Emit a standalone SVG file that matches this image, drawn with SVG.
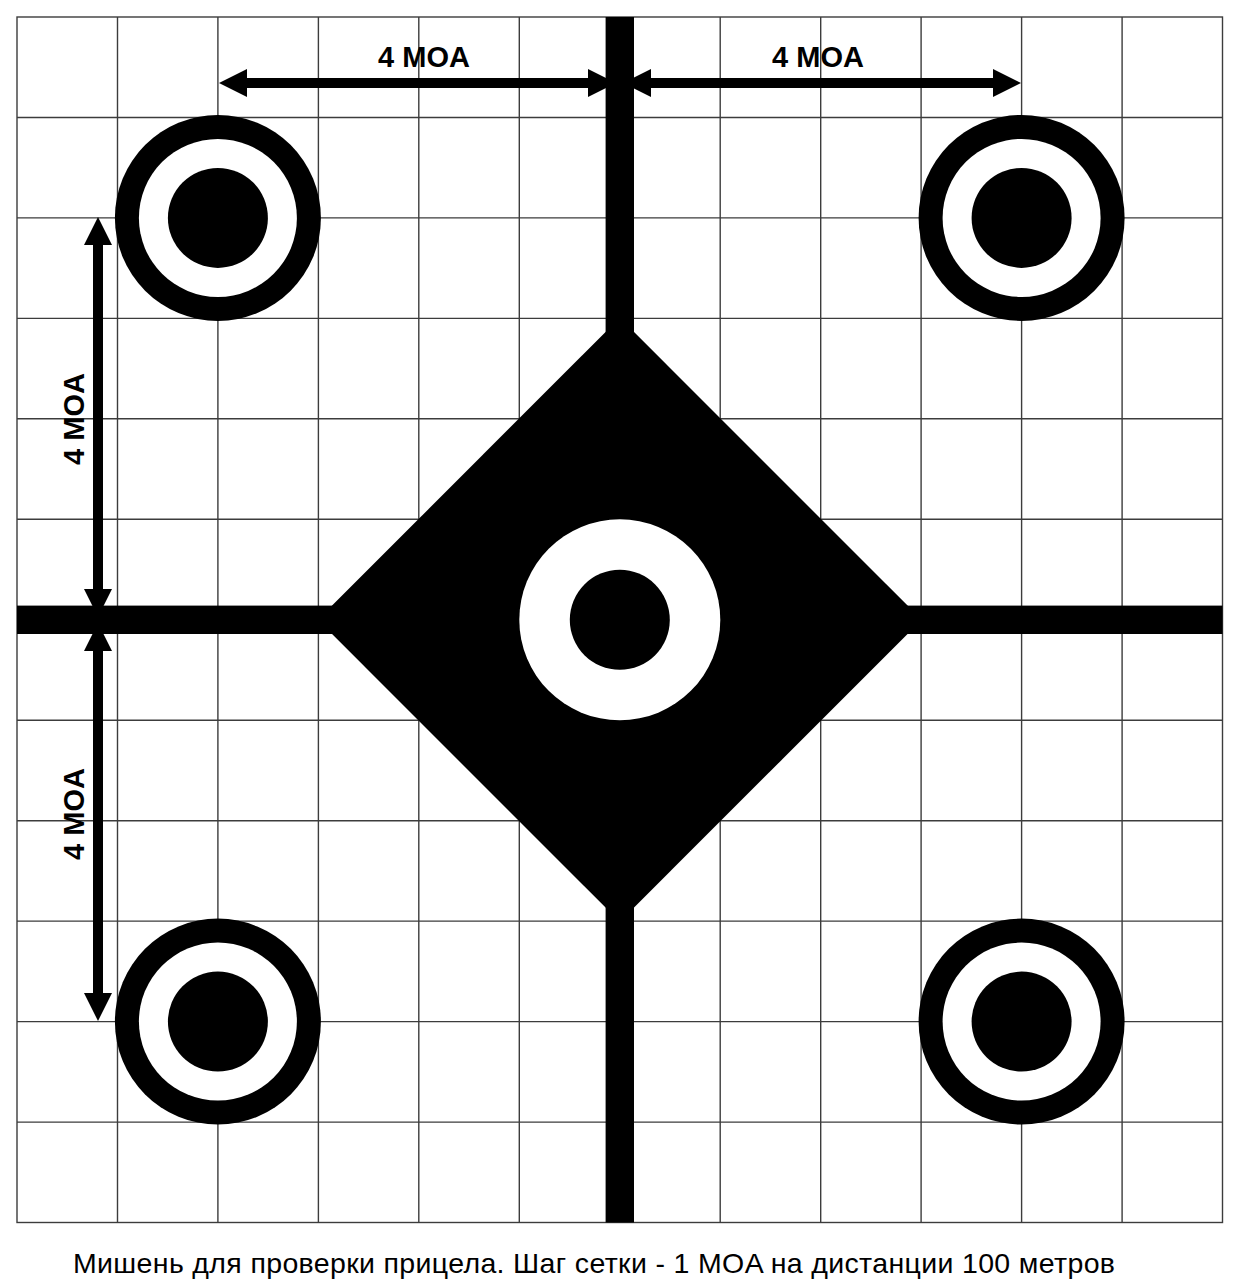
<svg xmlns="http://www.w3.org/2000/svg" width="1240" height="1280" viewBox="0 0 1240 1280">
<style>
.grid{stroke:#3c3c3c;stroke-width:1.4;fill:none}
.lbl{font-family:"Liberation Sans",Arial,sans-serif;font-weight:bold;font-size:29px;fill:#000;text-anchor:middle}
.cap{font-family:"Liberation Sans",Arial,sans-serif;font-size:28.5px;fill:#000}
</style>
<rect width="1240" height="1280" fill="#fff"/>
<g id="grid" class="grid">
<rect x="17" y="17" width="1205.5" height="1205.5"/>
<path d="M117.5 17V1222.5M217.9 17V1222.5M318.4 17V1222.5M418.8 17V1222.5M519.3 17V1222.5M619.8 17V1222.5M720.2 17V1222.5M820.7 17V1222.5M921.1 17V1222.5M1021.6 17V1222.5M1122.1 17V1222.5"/>
<path d="M17 117.5H1222.5M17 217.9H1222.5M17 318.4H1222.5M17 418.8H1222.5M17 519.3H1222.5M17 619.8H1222.5M17 720.2H1222.5M17 820.7H1222.5M17 921.1H1222.5M17 1021.6H1222.5M17 1122.1H1222.5"/>
</g>
<g id="center-target">
<polygon points="619.8,317.8 921.8,619.8 619.8,921.8 317.8,619.8" fill="#000"/>
<rect x="605.6" y="17" width="28.4" height="1205.5" fill="#000"/>
<rect x="17" y="605.6" width="1205.5" height="28.4" fill="#000"/>
<circle cx="619.8" cy="619.8" r="100.5" fill="#fff"/>
<circle cx="619.8" cy="619.8" r="50" fill="#000"/>
</g>
<g id="target-tl">
<circle cx="217.9" cy="217.9" r="103" fill="#000"/>
<circle cx="217.9" cy="217.9" r="79" fill="#fff"/>
<circle cx="217.9" cy="217.9" r="50" fill="#000"/>
</g>
<g id="target-tr">
<circle cx="1021.6" cy="217.9" r="103" fill="#000"/>
<circle cx="1021.6" cy="217.9" r="79" fill="#fff"/>
<circle cx="1021.6" cy="217.9" r="50" fill="#000"/>
</g>
<g id="target-bl">
<circle cx="217.9" cy="1021.6" r="103" fill="#000"/>
<circle cx="217.9" cy="1021.6" r="79" fill="#fff"/>
<circle cx="217.9" cy="1021.6" r="50" fill="#000"/>
</g>
<g id="target-br">
<circle cx="1021.6" cy="1021.6" r="103" fill="#000"/>
<circle cx="1021.6" cy="1021.6" r="79" fill="#fff"/>
<circle cx="1021.6" cy="1021.6" r="50" fill="#000"/>
</g>
<g id="connectors" fill="#000">
<rect x="245" y="78" width="345" height="10"/>
<polygon points="219,83 247,69 247,97"/>
<polygon points="616,83 588,69 588,97"/>
<rect x="650" y="78" width="345" height="10"/>
<polygon points="623,83 651,69 651,97"/>
<polygon points="1021,83 993,69 993,97"/>
<rect x="93" y="243" width="10" height="349"/>
<polygon points="98,217 84,245 112,245"/>
<polygon points="98,617 84,589 112,589"/>
<rect x="93" y="649" width="10" height="346"/>
<polygon points="98,623 84,651 112,651"/>
<polygon points="98,1021 84,993 112,993"/>
</g>
<g id="labels">
<text class="lbl" x="424" y="67">4 MOA</text>
<text class="lbl" x="818" y="67">4 MOA</text>
<text class="lbl" transform="translate(84,419) rotate(-90)">4 MOA</text>
<text class="lbl" transform="translate(84,814) rotate(-90)">4 MOA</text>
<text class="cap" x="73" y="1273" textLength="1042" lengthAdjust="spacing">Мишень для проверки прицела. Шаг сетки - 1 MOA на дистанции 100 метров</text>
</g>
</svg>
